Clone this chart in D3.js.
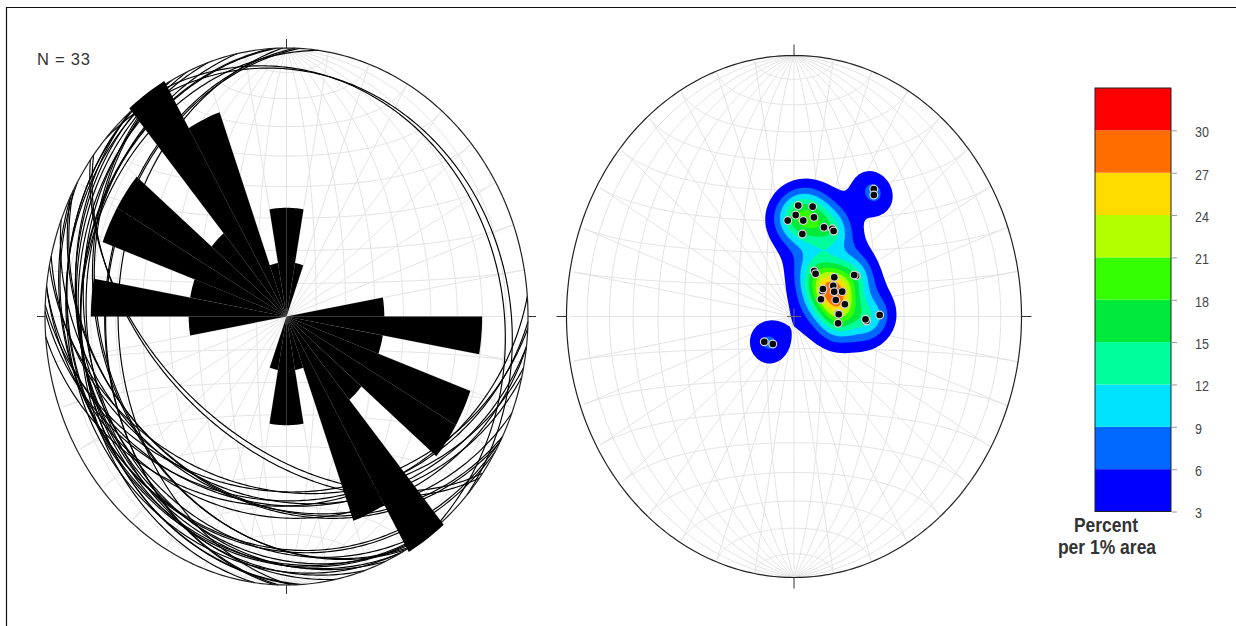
<!DOCTYPE html>
<html>
<head>
<meta charset="utf-8">
<script src="https://cdn.jsdelivr.net/npm/d3@7"></script>
<style>
  html, body { margin: 0; padding: 0; background: #fff; }
  svg { display: block; }
</style>
</head>
<body>
<svg id="chart" width="1236" height="626"></svg>
<script>
// Poles to the 33 measured planes (trend, plunge in degrees)
const poleTrend  = [2.5, 11.0, 1.1, 355.7, 6.3, 13.0, 6.6, 21.1, 26.6, 28.0,
                    35.7, 37.0,
                    27.0, 30.1, 49.7, 60.2, 59.0, 55.6, 61.8, 51.8, 50.4, 65.8, 60.9,
                    71.1, 78.2, 86.4, 87.5, 97.7, 93.1, 92.0, 89.1,
                    233.4, 221.5];
const polePlunge = [55.0, 54.7, 58.1, 59.8, 59.7, 58.0, 64.0, 60.0, 59.2, 59.6,
                    39.7, 41.3,
                    74.1, 74.6, 71.1, 64.3, 64.8, 73.0, 73.7, 77.2, 76.6, 71.1, 79.0,
                    74.2, 71.4, 74.2, 74.0, 74.1, 63.9, 64.3, 59.1,
                    76.8, 78.6];

// Strike rose: 10-degree bins (start of bin) and number of planes in each
const roseBins   = [0, 10, 20, 30, 40, 50, 60, 70, 80, 90, 100, 110, 120, 130, 140, 150, 160, 170];
const roseCounts = [2, 1, 0, 0, 0, 0, 0, 0, 2, 4, 2, 4, 4, 2, 5, 4, 1, 2];

// Density contour levels (percent per 1% area) and band colours
const contourLevels = [3, 6, 9, 12, 15, 18, 21, 24, 27, 30];
const contourColors = ["#0000ff", "#0068ff", "#00e3ff", "#00ff9c", "#00ea3c",
                       "#33ff00", "#b2ff00", "#ffdc00", "#ff6c00", "#ff0000"];
const colorbarTicks = [3, 6, 9, 12, 15, 18, 21, 24, 27, 30];

const N = poleTrend.length;
const rad = Math.PI / 180;
const svg = d3.select("#chart");

// ---------- lower-hemisphere equal-area (Schmidt) projection ----------
function dirVec(trend, plunge) {
  const t = trend * rad, p = plunge * rad;
  return [Math.sin(t) * Math.cos(p), Math.cos(t) * Math.cos(p), -Math.sin(p)];
}
function toNet(v) {
  let [x, y, z] = v;
  if (z > 0) { x = -x; y = -y; z = -z; }
  const k = 1 / Math.sqrt(1 - z);
  return [x * k, y * k];
}
function makeNet(cx, cy, rx, ry) {
  const xs = d3.scaleLinear().domain([-1, 1]).range([cx - rx, cx + rx]);
  const ys = d3.scaleLinear().domain([-1, 1]).range([cy + ry, cy - ry]);
  const line = d3.line().x(d => xs(d[0])).y(d => ys(d[1]));
  return { cx, cy, rx, ry, xs, ys, line, g: svg.append("g") };
}
function drawGrid(net) {
  const rings = [];
  const ts = d3.range(0, 180.001, 2);
  for (let phi = -80; phi <= 80; phi += 10) {          // meridians
    const s = Math.sin(phi * rad), c = Math.cos(phi * rad);
    rings.push(ts.map(t => { const a = t * rad;
      return toNet([Math.sin(a) * s, Math.cos(a), -Math.sin(a) * c]); }));
  }
  for (let al = 10; al <= 170; al += 10) {              // small circles
    const sa = Math.sin(al * rad), ca = Math.cos(al * rad);
    rings.push(d3.range(180, 360.001, 2).map(t => { const a = t * rad;
      return toNet([sa * Math.cos(a), ca, sa * Math.sin(a)]); }));
  }
  net.g.append("g").selectAll("path").data(rings).join("path")
    .attr("d", net.line).attr("fill", "none")
    .attr("stroke", "#e4e4e4").attr("stroke-width", 1);
}
function drawFrame(net, tickH, tickV) {
  const prim = d3.range(0, 360.001, 1).map(a => [Math.sin(a * rad), Math.cos(a * rad)]);
  net.g.append("path").attr("d", net.line(prim))
    .attr("fill", "none").attr("stroke", "#222").attr("stroke-width", 1.2);
  const t = net.g.append("g").attr("stroke", "#333").attr("stroke-width", 1);
  const { xs, ys } = net;
  t.append("line").attr("x1", xs(0)).attr("x2", xs(0)).attr("y1", ys(1) - tickV).attr("y2", ys(1));
  t.append("line").attr("x1", xs(0)).attr("x2", xs(0)).attr("y1", ys(-1)).attr("y2", ys(-1) + tickV);
  t.append("line").attr("x1", xs(-1) - tickH).attr("x2", xs(-1)).attr("y1", ys(0)).attr("y2", ys(0));
  t.append("line").attr("x1", xs(1)).attr("x2", xs(1) + tickH).attr("y1", ys(0)).attr("y2", ys(0));
}

// ---------- page frame ----------
svg.append("line").attr("x1", 6).attr("x2", 1236).attr("y1", 7.5).attr("y2", 7.5)
  .attr("stroke", "#111").attr("stroke-width", 1.2);
svg.append("line").attr("x1", 6.5).attr("x2", 6.5).attr("y1", 7).attr("y2", 626)
  .attr("stroke", "#111").attr("stroke-width", 1.2);

// ---------- left: great circles + strike rose ----------
const left = makeNet(286.5, 316.5, 241.5, 268.5);
drawGrid(left);

const poles = poleTrend.map((t, i) => ({ trend: t, plunge: polePlunge[i] }));
function greatCircle(p) {
  const dd = (p.trend + 180) % 360, dip = 90 - p.plunge;
  const st = (dd - 90) * rad;
  const s = [Math.sin(st), Math.cos(st), 0];
  const d = dirVec(dd, dip);
  return d3.range(0, 180.001, 1).map(t => {
    const a = t * rad, c = Math.cos(a), sn = Math.sin(a);
    return toNet([c * s[0] + sn * d[0], c * s[1] + sn * d[1], c * s[2] + sn * d[2]]);
  });
}
left.g.append("g").selectAll("path").data(poles).join("path")
  .attr("d", p => left.line(greatCircle(p)))
  .attr("fill", "none").attr("stroke", "#000").attr("stroke-width", 1.15);

drawFrame(left, 8, 9);

const petalR = d3.scaleLinear().domain([0, 5]).range([0, 1.0125]);
const petals = [];
roseBins.forEach((b, i) => {
  if (!roseCounts[i]) return;
  [b, b + 180].forEach(a0 => {
    const r = petalR(roseCounts[i]);
    const pts = [[0, 0]].concat(d3.range(a0, a0 + 10.001, 1)
      .map(a => [r * Math.sin(a * rad), r * Math.cos(a * rad)]));
    petals.push(pts);
  });
});
left.g.append("g").selectAll("path").data(petals).join("path")
  .attr("d", d => left.line(d) + "Z").attr("fill", "#000");

svg.append("text").attr("x", 37).attr("y", 65)
  .attr("font-family", "Liberation Sans, Arial, sans-serif")
  .attr("font-size", 16.5).attr("fill", "#333")
  .attr("textLength", 53).attr("lengthAdjust", "spacing")
  .text("N = " + N);

// ---------- right: pole density contours ----------
const right = makeNet(794, 316.5, 227.5, 261);
drawGrid(right);

// smoothed counting kernel: narrow core plus a broad shoulder
const poleVecs = poles.map(p => dirVec(p.trend, p.plunge));
const coreSigma = 6.5, tailSigma = 13, tailShare = 0.2, gain = 1.1;
function weight(th) {
  const a = th / coreSigma, b = th / tailSigma;
  return (1 - tailShare) * Math.exp(-(a * a)) + tailShare * Math.exp(-(b * b));
}
const n = 130;
const values = new Float64Array(n * n);
for (let j = 0; j < n; j++) {
  for (let i = 0; i < n; i++) {
    const X = -1 + (i + 0.5) * 2 / n, Y = 1 - (j + 0.5) * 2 / n;
    const r2 = X * X + Y * Y;
    if (r2 > 1) continue;
    const k = Math.sqrt(2 - r2);
    const v = [X * k, Y * k, r2 - 1];
    let sum = 0;
    for (const p of poleVecs) {
      const c = Math.min(1, Math.abs(v[0] * p[0] + v[1] * p[1] + v[2] * p[2]));
      sum += weight(Math.acos(c) / rad);
    }
    values[i + j * n] = 100 / N * gain * sum;
  }
}
const bands = d3.contours().size([n, n]).thresholds(contourLevels)(values);
const gridPath = d3.geoPath(d3.geoTransform({
  point(x, y) { this.stream.point(right.xs(-1 + x * 2 / n), right.ys(1 - y * 2 / n)); }
}));
const colorOf = d3.scaleOrdinal().domain(contourLevels).range(contourColors);
right.g.append("g").selectAll("path").data(bands).join("path")
  .attr("d", gridPath).attr("fill", d => colorOf(d.value)).attr("stroke", "none");

drawFrame(right, 10, 11);
// centre cross
right.g.append("g").attr("stroke", "#666").attr("stroke-width", 1)
  .call(g => {
    g.append("line").attr("x1", right.xs(0) - 7).attr("x2", right.xs(0) + 7)
      .attr("y1", right.ys(0)).attr("y2", right.ys(0));
    g.append("line").attr("x1", right.xs(0)).attr("x2", right.xs(0))
      .attr("y1", right.ys(0) - 8).attr("y2", right.ys(0) + 8);
  });

right.g.append("g").selectAll("circle").data(poles).join("circle")
  .attr("cx", p => right.xs(toNet(dirVec(p.trend, p.plunge))[0]))
  .attr("cy", p => right.ys(toNet(dirVec(p.trend, p.plunge))[1]))
  .attr("r", 3.9).attr("fill", "#0a0a0a")
  .attr("stroke", "#d8d8d8").attr("stroke-width", 1.2);

// ---------- colour bar ----------
const cb = d3.scaleLinear().domain([3, 33]).range([511.5, 88]);
const cbG = svg.append("g");
cbG.selectAll("rect").data(contourLevels).join("rect")
  .attr("x", 1095).attr("width", 76)
  .attr("y", d => cb(d + 3)).attr("height", d => cb(d) - cb(d + 3))
  .attr("fill", d => colorOf(d));
cbG.append("rect").attr("x", 1095).attr("y", cb(33)).attr("width", 76)
  .attr("height", cb(3) - cb(33)).attr("fill", "none")
  .attr("stroke", "#222").attr("stroke-width", 1);
const axis = d3.axisRight(cb).tickValues(colorbarTicks).tickSize(5).tickPadding(18);
const axG = cbG.append("g").attr("transform", "translate(1172,0)").call(axis);
axG.select(".domain").remove();
axG.selectAll(".tick line").attr("stroke", "#999");
axG.selectAll(".tick text")
  .attr("font-family", "Liberation Sans, Arial, sans-serif")
  .attr("font-size", 12.5).attr("fill", "#444")
  .attr("dy", "0.45em")
  .attr("transform", "scale(1,1.14)");

const lab = cbG.append("g").attr("font-family", "Liberation Sans, Arial, sans-serif")
  .attr("font-weight", "bold").attr("font-size", 17.5).attr("fill", "#333")
  .attr("text-anchor", "middle");
lab.append("text").attr("transform", "translate(1106,531.5) scale(1,1.14)").text("Percent");
lab.append("text").attr("transform", "translate(1107,553.5) scale(1,1.14)").text("per 1% area");
</script>
</body>
</html>
